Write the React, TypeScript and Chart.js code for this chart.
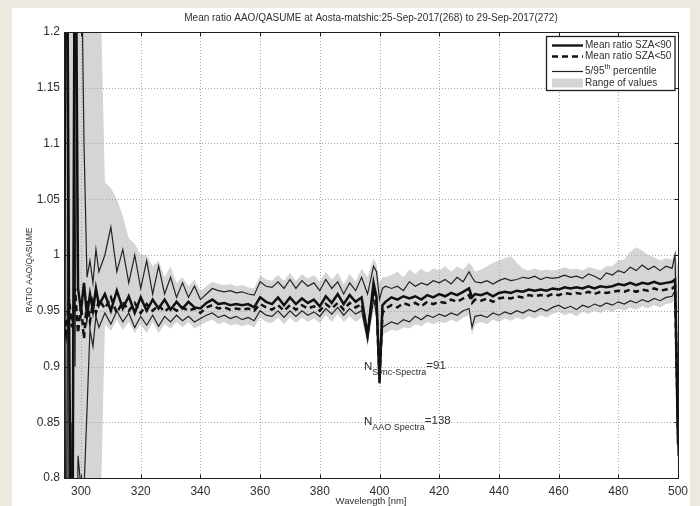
import React, { useEffect, useRef } from 'react';
import { Chart, registerables } from 'chart.js';

Chart.register(...registerables);

const titleText = 'Mean ratio AAO/QASUME at Aosta-matshic:25-Sep-2017(268) to 29-Sep-2017(272)';
const yTitle = 'RATIO AAO/QASUME';
const xTitle = 'Wavelength [nm]';
const legendLabels = ['Mean ratio SZA<90', 'Mean ratio SZA<50', '5/95', 'th', ' percentile', 'Range of values'];

const xTicks = [300, 320, 340, 360, 380, 400, 420, 440, 460, 480, 500];
const yTicks = [0.8, 0.85, 0.9, 0.95, 1.0, 1.05, 1.1, 1.15, 1.2];

const wavelengths = [
  294, 295, 296, 297, 298, 299, 300, 301, 302, 303, 304, 305, 306,
  308, 310, 312, 314, 316, 318, 320, 322, 324, 326,
  328, 330, 332, 334, 336, 338, 340, 342, 344, 346,
  348, 350, 352, 354, 356, 358, 360, 362, 364, 366,
  368, 370, 372, 374, 376, 378, 380, 382, 384, 386,
  388, 390, 392, 394, 396, 398,
  399, 400, 401,
  402, 404, 406, 408, 410, 412, 414, 416, 418, 420, 422, 424, 426, 428, 430,
  431,
  432, 434, 436, 438, 440, 442, 444, 446, 448, 450,
  452, 454, 456, 458, 460, 462, 464, 466, 468, 470,
  472, 474, 476, 478, 480, 482, 484, 486, 488, 490,
  492, 494, 496, 498,
  499, 500,
];

const meanSza90 = [
  0.6, 1.5, 0.94, 0.6, 1.4, 0.97, 0.95, 0.975, 0.945, 0.965, 0.95, 0.97, 0.955,
  0.965, 0.95, 0.968, 0.952, 0.963, 0.948, 0.962, 0.95, 0.96, 0.952,
  0.96, 0.951, 0.958, 0.952, 0.958, 0.953, 0.952, 0.957, 0.96, 0.956,
  0.957, 0.955, 0.956, 0.955, 0.956, 0.953, 0.962, 0.958, 0.956, 0.962,
  0.955, 0.962, 0.956, 0.961, 0.957, 0.96, 0.954, 0.963, 0.957, 0.965,
  0.956, 0.964, 0.958, 0.962, 0.928, 0.975,
  0.962, 0.885, 0.955,
  0.958, 0.962, 0.96, 0.963, 0.961, 0.963, 0.96, 0.964, 0.962, 0.965, 0.963, 0.966, 0.964, 0.967, 0.97,
  0.962,
  0.965, 0.964, 0.966, 0.963, 0.966, 0.967, 0.966, 0.968, 0.967, 0.969,
  0.968, 0.969, 0.968, 0.97, 0.969, 0.971, 0.97, 0.971, 0.97, 0.972,
  0.97, 0.972, 0.971, 0.972, 0.974, 0.973, 0.975, 0.973, 0.975, 0.974,
  0.976, 0.974, 0.975, 0.976,
  0.978, 0.83,
];

const meanSza50 = [
  0.95, 0.93, 0.96, 0.935, 0.97, 0.93, 0.955, 0.925, 0.96, 0.94, 0.958, 0.948, 0.96,
  0.952, 0.962, 0.948, 0.958, 0.95, 0.957, 0.948, 0.956, 0.95, 0.955,
  0.949, 0.954, 0.95, 0.953, 0.95, 0.952, 0.948, 0.953, 0.955, 0.952,
  0.953, 0.951, 0.952, 0.951, 0.952, 0.95, 0.956, 0.953, 0.951, 0.955,
  0.95, 0.955, 0.951, 0.955, 0.952, 0.954, 0.95, 0.956, 0.952, 0.957,
  0.951, 0.957, 0.953, 0.956, 0.93, 0.968,
  0.955, 0.89, 0.948,
  0.952, 0.955, 0.953, 0.957, 0.955, 0.957, 0.954, 0.958, 0.956, 0.958, 0.957, 0.96, 0.958, 0.961, 0.964,
  0.957,
  0.96, 0.959, 0.961, 0.958, 0.961, 0.962, 0.961, 0.963, 0.962, 0.964,
  0.963, 0.964, 0.963, 0.965, 0.964, 0.966, 0.965, 0.966, 0.965, 0.967,
  0.965, 0.967, 0.966, 0.967, 0.968, 0.967, 0.969, 0.967, 0.969, 0.968,
  0.97, 0.968, 0.969, 0.97,
  0.972, 0.84,
];

const pct95 = [
  1.5, 0.6, 1.5, 1.5, 0.9, 1.5, 1.3, 1.1, 0.98, 0.995, 0.975, 1.005, 0.985,
  1.0, 1.025, 0.985, 1.005, 0.975, 1.0, 0.97, 0.995, 0.965, 0.99,
  0.965, 0.98, 0.962, 0.975, 0.962, 0.972, 0.96, 0.965, 0.97, 0.968,
  0.967, 0.968, 0.966, 0.967, 0.965, 0.964, 0.976, 0.972, 0.971, 0.976,
  0.97, 0.978, 0.97, 0.977, 0.972, 0.975, 0.968, 0.978, 0.97, 0.976,
  0.965, 0.975, 0.968, 0.98, 0.965, 0.99,
  0.985, 0.96, 0.97,
  0.972, 0.97, 0.972, 0.968, 0.976, 0.972, 0.975, 0.973, 0.977, 0.975, 0.978, 0.974, 0.98, 0.976, 0.985,
  0.98,
  0.976, 0.975, 0.977, 0.974, 0.977, 0.979, 0.977, 0.978, 0.98, 0.979,
  0.981, 0.978, 0.98, 0.979, 0.98, 0.982, 0.98, 0.981, 0.979, 0.983,
  0.981, 0.978, 0.984, 0.982, 0.986, 0.984, 0.989, 0.986, 0.991, 0.987,
  0.99, 0.986, 0.99, 0.988,
  1.0, 0.85,
];

const pct5 = [
  0.5, 1.5, 0.5, 0.85, 0.5, 0.82, 0.79, 0.79, 0.86, 0.933, 0.918, 0.945, 0.935,
  0.948, 0.938, 0.95, 0.94, 0.948, 0.935, 0.945, 0.937, 0.946, 0.936,
  0.945, 0.94, 0.946, 0.941, 0.945, 0.94, 0.943, 0.946, 0.948, 0.944,
  0.946, 0.943, 0.945, 0.942, 0.944, 0.941, 0.95, 0.946, 0.945, 0.95,
  0.944, 0.95, 0.945, 0.95, 0.946, 0.949, 0.945, 0.952, 0.947, 0.953,
  0.946, 0.952, 0.947, 0.95, 0.924, 0.96,
  0.948, 0.89, 0.935,
  0.937, 0.94, 0.938, 0.942, 0.94, 0.945, 0.942, 0.946, 0.944, 0.947, 0.945, 0.948, 0.946, 0.95, 0.952,
  0.935,
  0.945, 0.946, 0.944, 0.948, 0.946, 0.949, 0.947, 0.95, 0.948, 0.951,
  0.949, 0.952, 0.95, 0.953, 0.955, 0.952, 0.954, 0.951, 0.955, 0.953,
  0.956, 0.954, 0.957, 0.955, 0.958, 0.956, 0.959, 0.957, 0.96, 0.958,
  0.961, 0.959, 0.962, 0.963,
  0.968, 0.82,
];

const rangeMax = [
  1.3, 1.3, 1.3, 1.3, 1.3, 1.3, 1.3, 1.3, 1.3, 1.3, 1.3, 1.3, 1.3,
  1.065, 1.06, 1.05, 1.035, 1.015, 1.01, 1.0, 1.0, 0.99, 0.995,
  0.98, 0.99, 0.975, 0.98, 0.972, 0.978, 0.968, 0.972, 0.976, 0.974,
  0.973, 0.974, 0.972, 0.973, 0.971, 0.97, 0.982, 0.978, 0.977, 0.982,
  0.977, 0.984, 0.977, 0.983, 0.979, 0.982, 0.976, 0.985, 0.978, 0.984,
  0.974, 0.983, 0.976, 0.988, 0.98, 0.997,
  0.992, 0.975, 0.98,
  0.98, 0.982, 0.985, 0.98, 0.987, 0.983, 0.988, 0.984, 0.988, 0.986, 0.99, 0.985, 0.99, 0.987, 0.993,
  0.99,
  0.985, 0.987, 0.99, 0.993, 0.995, 0.997, 0.999, 0.993, 0.988, 0.986,
  0.988, 0.986, 0.987, 0.986, 0.987, 0.989, 0.987, 0.988, 0.986, 0.989,
  0.988, 0.986, 0.99, 0.99, 0.995, 0.996, 1.003, 1.007, 1.004, 1.0,
  0.998, 0.995, 0.997, 0.996,
  1.003, 0.99,
];

const rangeMin = [
  0.7, 0.7, 0.7, 0.7, 0.7, 0.7, 0.7, 0.7, 0.7, 0.7, 0.7, 0.7, 0.7,
  0.938, 0.932, 0.942, 0.933, 0.94, 0.93, 0.938, 0.93, 0.94, 0.93,
  0.938, 0.934, 0.94, 0.935, 0.94, 0.934, 0.937, 0.94, 0.942, 0.938,
  0.94, 0.937, 0.938, 0.936, 0.938, 0.935, 0.944, 0.94, 0.939, 0.944,
  0.938, 0.944, 0.939, 0.944, 0.94, 0.943, 0.939, 0.946, 0.94, 0.947,
  0.94, 0.945, 0.94, 0.944, 0.918, 0.952,
  0.94, 0.88, 0.928,
  0.93, 0.933, 0.932, 0.935, 0.934, 0.938, 0.936, 0.94, 0.938, 0.94, 0.939, 0.942, 0.94, 0.944, 0.946,
  0.928,
  0.938, 0.94, 0.938, 0.942, 0.94, 0.943, 0.941, 0.944, 0.942, 0.945,
  0.943, 0.946, 0.944, 0.947, 0.949, 0.946, 0.948, 0.945, 0.949, 0.947,
  0.95, 0.948, 0.951, 0.949, 0.952, 0.95, 0.953, 0.951, 0.954, 0.952,
  0.955, 0.953, 0.956, 0.957,
  0.96, 0.8,
];

const FONT = '"Liberation Sans", Arial, Helvetica, sans-serif';
const TEXT = '#2e2e2e';

const decorPlugin = {
  id: 'decor',
  afterDatasetDraw(chart: any, args: any) {
    if (args.index !== 4) return;
    const { ctx, chartArea: a, scales } = chart;
    const x = scales.x;
    const y = scales.y;
    ctx.save();
    ctx.strokeStyle = '#a9a9a9';
    ctx.lineWidth = 1;
    ctx.setLineDash([1, 2]);
    for (const t of xTicks) {
      const px = Math.round(x.getPixelForValue(t)) + 0.5;
      ctx.beginPath();
      ctx.moveTo(px, a.top);
      ctx.lineTo(px, a.bottom);
      ctx.stroke();
    }
    for (const t of yTicks) {
      const py = Math.round(y.getPixelForValue(t)) + 0.5;
      ctx.beginPath();
      ctx.moveTo(a.left, py);
      ctx.lineTo(a.right, py);
      ctx.stroke();
    }
    ctx.restore();
  },
  afterDraw(chart: any) {
    const { ctx, chartArea: a, scales } = chart;
    const x = scales.x;
    const y = scales.y;
    ctx.save();
    // box
    ctx.strokeStyle = '#1e1e1e';
    ctx.lineWidth = 1;
    ctx.setLineDash([]);
    const L = Math.round(a.left) + 0.5;
    const R = Math.round(a.right) + 0.5;
    const T = Math.round(a.top) + 0.5;
    const B = Math.round(a.bottom) + 0.5;
    ctx.strokeRect(L, T, R - L, B - T);
    // inward tick marks
    ctx.beginPath();
    for (const t of xTicks) {
      const px = Math.round(x.getPixelForValue(t)) + 0.5;
      ctx.moveTo(px, B); ctx.lineTo(px, B - 4);
      ctx.moveTo(px, T); ctx.lineTo(px, T + 4);
    }
    for (const t of yTicks) {
      const py = Math.round(y.getPixelForValue(t)) + 0.5;
      ctx.moveTo(L, py); ctx.lineTo(L + 4, py);
      ctx.moveTo(R, py); ctx.lineTo(R - 4, py);
    }
    ctx.stroke();

    // title
    ctx.fillStyle = TEXT;
    ctx.font = `10px ${FONT}`;
    ctx.textAlign = 'center';
    ctx.textBaseline = 'middle';
    ctx.fillText(titleText, (a.left + a.right) / 2, 10.5);

    // y axis title
    ctx.save();
    ctx.translate(18, 262);
    ctx.rotate(-Math.PI / 2);
    ctx.font = `8.5px ${FONT}`;
    ctx.fillText(yTitle, 0, 0);
    ctx.restore();

    // x axis title
    ctx.font = `9.5px ${FONT}`;
    ctx.fillText(xTitle, (a.left + a.right) / 2, 493.5);

    // annotations
    const drawN = (wl: number, val: number, sub: string, rest: string) => {
      const px = x.getPixelForValue(wl);
      const py = y.getPixelForValue(val);
      ctx.textAlign = 'left';
      ctx.textBaseline = 'alphabetic';
      ctx.font = `11.5px ${FONT}`;
      ctx.fillText('N', px, py);
      let cx = px + ctx.measureText('N').width;
      ctx.font = `9px ${FONT}`;
      ctx.fillText(sub, cx, py + 5);
      cx += ctx.measureText(sub).width;
      ctx.font = `11.5px ${FONT}`;
      ctx.fillText(rest, cx, py - 1);
    };
    drawN(394.8, 0.8969, 'Sync-Spectra', '=91');
    drawN(394.8, 0.8475, 'AAO Spectra', '=138');

    // legend
    const bx = 534.5, by = 28.5, bw = 128.5, bh = 54;
    ctx.fillStyle = '#ffffff';
    ctx.fillRect(bx, by, bw, bh);
    ctx.strokeStyle = '#1e1e1e';
    ctx.lineWidth = 1.3;
    ctx.strokeRect(bx, by, bw, bh);
    const lx1 = 540, lx2 = 571, tx = 573;
    const rows = [37.5, 48.5, 63.5, 75];
    ctx.strokeStyle = '#151515';
    ctx.lineWidth = 2.4;
    ctx.beginPath(); ctx.moveTo(lx1, rows[0]); ctx.lineTo(lx2, rows[0]); ctx.stroke();
    ctx.setLineDash([6, 4]);
    ctx.beginPath(); ctx.moveTo(lx1, rows[1]); ctx.lineTo(lx2, rows[1]); ctx.stroke();
    ctx.setLineDash([]);
    ctx.lineWidth = 1.2;
    ctx.strokeStyle = '#222';
    ctx.beginPath(); ctx.moveTo(lx1, rows[2]); ctx.lineTo(lx2, rows[2]); ctx.stroke();
    ctx.fillStyle = '#d5d5d5';
    ctx.fillRect(lx1, rows[3] - 4.5, lx2 - lx1, 9);
    ctx.fillStyle = TEXT;
    ctx.textAlign = 'left';
    ctx.textBaseline = 'middle';
    ctx.font = `10px ${FONT}`;
    ctx.fillText(legendLabels[0], tx, rows[0]);
    ctx.fillText(legendLabels[1], tx, rows[1]);
    ctx.fillText(legendLabels[2], tx, rows[2]);
    let sx = tx + ctx.measureText(legendLabels[2]).width;
    ctx.font = `7px ${FONT}`;
    ctx.fillText(legendLabels[3], sx, rows[2] - 4);
    sx += ctx.measureText(legendLabels[3]).width;
    ctx.font = `10px ${FONT}`;
    ctx.fillText(legendLabels[4], sx, rows[2]);
    ctx.fillText(legendLabels[5], tx, rows[3]);
    ctx.restore();
  },
};

const pts = (ys: number[]) => wavelengths.map((w, i) => ({ x: w, y: ys[i] }));

export default function App() {
  const canvasRef = useRef<HTMLCanvasElement | null>(null);

  useEffect(() => {
    const canvas = canvasRef.current;
    if (!canvas) return;
    const line = { pointRadius: 0, tension: 0, fill: false, clip: 0 };
    const chart = new Chart(canvas, {
      type: 'line',
      data: {
        datasets: [
          { ...line, label: legendLabels[0], data: pts(meanSza90), borderColor: '#111', borderWidth: 2.5 },
          { ...line, label: legendLabels[1], data: pts(meanSza50), borderColor: '#111', borderWidth: 2.5, borderDash: [6, 4] },
          { ...line, label: '95th percentile', data: pts(pct95), borderColor: '#222', borderWidth: 1.2 },
          { ...line, label: '5th percentile', data: pts(pct5), borderColor: '#222', borderWidth: 1.2 },
          { ...line, label: 'Range max', data: pts(rangeMax), borderColor: 'rgba(0,0,0,0)', borderWidth: 0, backgroundColor: '#d5d5d5', fill: '+1' },
          { ...line, label: 'Range min', data: pts(rangeMin), borderColor: 'rgba(0,0,0,0)', borderWidth: 0 },
        ],
      } as any,
      options: {
        responsive: false,
        animation: false,
        events: [],
        layout: { padding: { left: 0, right: 12, top: 24, bottom: 0 } },
        plugins: {
          legend: { display: false },
          tooltip: { enabled: false },
          title: { display: false },
        },
        scales: {
          x: {
            type: 'linear',
            min: 294.3,
            max: 500,
            afterBuildTicks: (s: any) => { s.ticks = xTicks.map((v) => ({ value: v })); },
            afterFit: (s: any) => { s.height = 28; s.paddingLeft = 0; s.paddingRight = 0; },
            ticks: {
              autoSkip: false,
              maxRotation: 0,
              padding: 6,
              color: TEXT,
              font: { family: FONT, size: 12 },
              callback: (v: any) => String(v),
            },
            grid: { display: false, drawTicks: false },
            border: { display: false },
            title: { display: false },
          },
          y: {
            type: 'linear',
            min: 0.8,
            max: 1.2,
            afterBuildTicks: (s: any) => { s.ticks = yTicks.map((v) => ({ value: v })); },
            afterFit: (s: any) => { s.width = 52; s.paddingTop = 0; s.paddingBottom = 0; },
            ticks: {
              padding: 4,
              color: TEXT,
              font: { family: FONT, size: 12 },
              callback: (v: any) => String(parseFloat(Number(v).toFixed(2))),
            },
            grid: { display: false, drawTicks: false },
            border: { display: false },
            title: { display: false },
          },
        },
      } as any,
      plugins: [decorPlugin],
    });
    return () => chart.destroy();
  }, []);

  return (
    <div style={{ position: 'fixed', left: 0, top: 0, width: 700, height: 506, background: '#ECEAE0', overflow: 'hidden' }}>
      <div style={{ position: 'absolute', left: 12, top: 8, width: 678, height: 498, background: '#ffffff' }}>
        <canvas ref={canvasRef} width={678} height={498} style={{ display: 'block', width: 678, height: 498 }} />
      </div>
    </div>
  );
}
